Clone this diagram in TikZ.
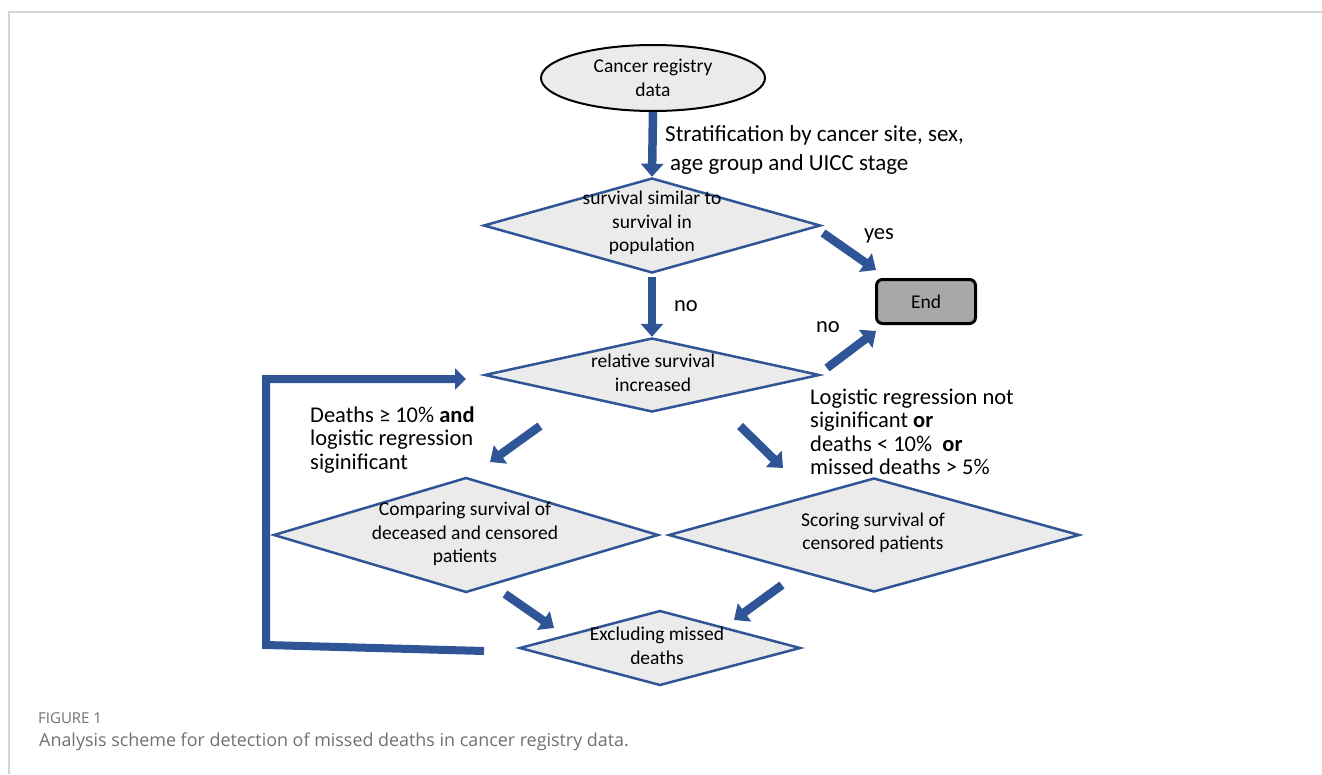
\documentclass[tikz,border=0pt]{standalone}
\usepackage{fontspec}
\setmainfont{Carlito}
\newfontfamily\capfont{Open Sans}
\usetikzlibrary{shapes.geometric,arrows.meta}
\definecolor{dblue}{RGB}{47,85,151}
\definecolor{dfill}{RGB}{235,235,235}
\definecolor{efill}{RGB}{168,168,168}
\definecolor{capgray}{RGB}{112,112,112}
\definecolor{framegray}{RGB}{212,212,212}
\begin{document}
\begin{tikzpicture}[x=1pt,y=-1pt,
  dia/.style={diamond, draw=dblue, line width=2.5pt, fill=dfill, inner sep=0pt},
  dtxt/.style={font=\fontsize{19.5pt}{23.5pt}\selectfont, align=center, inner sep=0pt},
  lbl/.style={font=\fontsize{22.5pt}{23.5pt}\selectfont, align=left, inner sep=0pt, anchor=west},
  barrow/.style={draw=dblue, line width=8.5pt, -{Triangle[width=22pt,length=13pt]}},
  captxt/.style={anchor=base west, inner sep=0pt, text=capgray}
]
\path[use as bounding box] (0,0) rectangle (1322,774);
% frame
\draw[framegray, line width=1.5pt] (9,774) -- (9,12) -- (1322,12);

% nodes
\node[ellipse, draw=black, line width=2pt, fill=dfill, minimum width=224pt, minimum height=66pt, inner sep=0pt, dtxt] (start) at (653,78) {Cancer registry\\data};

\node[dia, minimum width=337pt, minimum height=95pt] (d1) at (652,225.5) {};
\node[dtxt] (t1) at (652,223) {survival similar to\\survival in\\population};

\node[draw=black, line width=3pt, rounded corners=6pt, fill=efill, minimum width=99pt, minimum height=44pt, inner sep=0pt, font=\fontsize{19.5pt}{23.5pt}\selectfont] (end) at (926,301.5) {End};

\node[dia, minimum width=335pt, minimum height=74pt] (d2) at (652,375) {};
\node[dtxt] (t2) at (653,373) {relative survival\\increased};

\node[dia, minimum width=385pt, minimum height=115pt] (d3) at (466,535) {};
\node[dtxt] (t3) at (465,534) {Comparing survival of\\deceased and censored\\patients};

\node[dia, minimum width=411pt, minimum height=114pt] (d4) at (874,535) {};
\node[dtxt] (t4) at (873,533) {Scoring survival of\\censored patients};

\node[dia, minimum width=281pt, minimum height=75pt] (d5) at (660,648) {};
\node[dtxt] (t5) at (657,646) {Excluding missed\\deaths};

% labels
\node[lbl, font=\fontsize{23pt}{28.5pt}\selectfont] (strat) at (665,150) {Stratification by cancer site, sex,\\\hspace*{5pt}age group and UICC stage};
\node[lbl, anchor=center] (yes) at (879,236) {yes};
\node[lbl, anchor=center] (no1) at (686,306) {no};
\node[lbl, anchor=center] (no2) at (828,327) {no};
\node[lbl] (ltxt) at (310,440) {Deaths ≥ 10\% \textbf{and}\\logistic regression\\siginificant};
\node[lbl] (rtxt) at (810,432) {Logistic regression not\\siginificant \textbf{or}\\deaths < 10\%~ \textbf{or}\\missed deaths > 5\%};

% free ends of connectors
\coordinate (ya) at (823,233);
\coordinate (yb) at (876,270);
\coordinate (na) at (827,368);
\coordinate (nb) at (876,331);
\coordinate (la) at (540,426);
\coordinate (lb) at (490,462);
\coordinate (ra) at (740,426);
\coordinate (rb) at (783,468);
\coordinate (ca) at (505,594);
\coordinate (cb) at (554,628);
\coordinate (sa) at (782,585);
\coordinate (sb) at (734,620);
\coordinate (fa) at (484,651);
\coordinate (fc1) at (266,645);
\coordinate (fc2) at (266,379);
\coordinate (fb) at (466,379);

% connectors
\draw[barrow] (start.south) -- (d1.north);
\draw[barrow, shorten <=3pt] (d1.south) -- (d2.north);
\draw[barrow] (ya) -- (yb);
\draw[barrow] (na) -- (nb);
\draw[barrow] (la) -- (lb);
\draw[barrow] (ra) -- (rb);
\draw[barrow] (ca) -- (cb);
\draw[barrow] (sa) -- (sb);
\draw[draw=dblue, line width=8pt, line join=miter, -{Triangle[width=21pt,length=11pt]}] (fa) -- (fc1) -- (fc2) -- (fb);

% caption
\node[captxt, font=\capfont\fontsize{15pt}{17pt}\selectfont] (fig) at (38,723) {FIGURE 1};
\node[captxt, font=\capfont\fontsize{17.9pt}{20pt}\selectfont] (cap) at (39,746) {Analysis scheme for detection of missed deaths in cancer registry data.};
\end{tikzpicture}
\end{document}
